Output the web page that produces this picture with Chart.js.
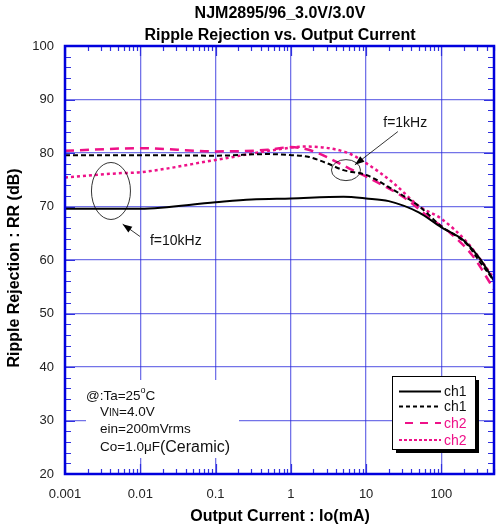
<!DOCTYPE html>
<html><head><meta charset="utf-8">
<script src="https://cdn.jsdelivr.net/npm/chart.js@4"></script>
<style>html,body{margin:0;padding:0;background:#fff;}#wrap{width:497px;height:530px;}</style>
</head><body><div id="wrap"><canvas id="c" width="497" height="530"></canvas></div>
<script>
// Output current (mA) sample points and ripple rejection (dB) for each curve
const ch1_10k_x = [0.001, 0.01, 0.1, 0.3, 1, 5, 10, 20, 50, 100, 200, 330, 500];
const ch1_10k_y = [69.6, 69.6, 70.8, 71.3, 71.5, 71.8, 71.5, 71.0, 68.9, 66.1, 63.6, 60.1, 56.1];
const ch1_1k_x  = [0.001, 0.01, 0.1, 0.5, 1, 1.7, 3, 5, 10, 23, 50, 100, 220, 330, 500];
const ch1_1k_y  = [79.6, 79.6, 79.5, 79.8, 79.6, 79.3, 78.1, 76.8, 75.9, 73.1, 70.1, 66.3, 62.9, 59.5, 56.1];
const ch2_1k_x  = [0.001, 0.01, 0.1, 0.5, 1, 2, 6, 11, 35, 65, 130, 260, 500];
const ch2_1k_y  = [80.4, 80.9, 80.3, 80.6, 81.1, 80.3, 77.1, 75.3, 71.3, 68.2, 65.1, 60.8, 54.5];
const ch2_10k_x = [0.001, 0.005, 0.01, 0.1, 0.7, 1.5, 5.5, 10, 23, 50, 100, 220, 330, 500];
const ch2_10k_y = [75.4, 76.2, 76.4, 78.7, 80.7, 81.2, 80.1, 78.1, 74.4, 70.1, 67.7, 63.3, 60.1, 56.5];
const legendLabels = ["ch1", "ch1", "ch2", "ch2"];
const xTickValues = [0.001, 0.01, 0.1, 1, 10, 100];
const xTickLabels = ["0.001", "0.01", "0.1", "1", "10", "100"];
const yTickValues = [20, 30, 40, 50, 60, 70, 80, 90, 100];
const titleLines = ["NJM2895/96_3.0V/3.0V", "Ripple Rejection vs. Output Current"];
const xTitle = "Output Current : Io(mA)";
const yTitle = "Ripple Rejection : RR (dB)";
const condLines = ["@:Ta=25", "V", "ein=200mVrms", "Co=1.0"];

const pts = (xs, ys) => xs.map((x, i) => ({x: x, y: ys[i]}));
const PINK = '#ee1188';
const FONT = '"Liberation Sans", Arial, sans-serif';

const datasets = [
  {label: legendLabels[0], data: pts(ch1_10k_x, ch1_10k_y), borderColor: '#000', borderWidth: 2, borderDash: [], tension: 0.35},
  {label: legendLabels[1], data: pts(ch1_1k_x, ch1_1k_y), borderColor: '#000', borderWidth: 2, borderDash: [5, 3], tension: 0.35},
  {label: legendLabels[2], data: pts(ch2_1k_x, ch2_1k_y), borderColor: PINK, borderWidth: 2.5, borderDash: [9, 6], tension: 0.35},
  {label: legendLabels[3], data: pts(ch2_10k_x, ch2_10k_y), borderColor: PINK, borderWidth: 2.5, borderDash: [3, 3], tension: 0.35}
].map(d => Object.assign(d, {pointRadius: 0, fill: false, cubicInterpolationMode: 'monotone'}));

const decor = {
  id: 'decor',
  beforeDatasetsDraw(chart) {
    const ctx = chart.ctx, xs = chart.scales.x, ys = chart.scales.y, a = chart.chartArea;
    ctx.save();
    // white backing behind the conditions text (interrupts grid)
    ctx.fillStyle = '#fff';
    ctx.fillRect(86, 380, 153, 78);
    ctx.strokeStyle = '#3030e0'; ctx.lineWidth = 1.2;
    // minor/major inward ticks
    ctx.beginPath();
    for (let d = -3; d <= 2; d++) {
      for (let m = 1; m <= 9; m++) {
        const v = m * Math.pow(10, d);
        if (v > 500) continue;
        const px = Math.round(xs.getPixelForValue(v)) + 0.5;
        const len = (m === 1) ? 10 : 5;
        ctx.moveTo(px, a.bottom); ctx.lineTo(px, a.bottom - len);
        ctx.moveTo(px, a.top); ctx.lineTo(px, a.top + len);
      }
    }
    for (let v = 20; v <= 100; v += 2) {
      const py = Math.round(ys.getPixelForValue(v)) + 0.5;
      const len = (v % 10 === 0) ? 10 : 6;
      ctx.moveTo(a.left, py); ctx.lineTo(a.left + len, py);
      ctx.moveTo(a.right, py); ctx.lineTo(a.right - len, py);
    }
    ctx.stroke();
    ctx.restore();
  },
  afterDraw(chart) {
    const ctx = chart.ctx, xs = chart.scales.x, ys = chart.scales.y, a = chart.chartArea;
    ctx.save();
    // border
    ctx.strokeStyle = '#0000dd'; ctx.lineWidth = 2.5;
    ctx.strokeRect(a.left, a.top, a.right - a.left, a.bottom - a.top);
    // title
    ctx.fillStyle = '#000'; ctx.textAlign = 'center'; ctx.textBaseline = 'middle';
    ctx.font = 'bold 16px ' + FONT;
    const cx = 280;
    ctx.fillText(titleLines[0], cx, 14);
    ctx.fillText(titleLines[1], cx, 36);
    // axis titles
    ctx.font = 'bold 16px ' + FONT;
    ctx.fillText(xTitle, cx, 517);
    ctx.save();
    ctx.translate(15, 268);
    ctx.rotate(-Math.PI / 2);
    ctx.fillText(yTitle, 0, 0);
    ctx.restore();
    // conditions text
    ctx.textAlign = 'left'; ctx.textBaseline = 'alphabetic';
    ctx.fillStyle = '#111';
    const F = 13.5;
    ctx.font = F + 'px ' + FONT;
    let x0 = 86, y0 = 400;
    ctx.fillText(condLines[0], x0, y0);
    let w = ctx.measureText(condLines[0]).width;
    ctx.font = '9px ' + FONT; ctx.fillText('o', x0 + w, y0 - 7);
    let w2 = ctx.measureText('o').width;
    ctx.font = F + 'px ' + FONT; ctx.fillText('C', x0 + w + w2, y0);
    x0 = 100; y0 = 416;
    ctx.fillText(condLines[1], x0, y0);
    w = ctx.measureText('V').width;
    ctx.font = '10px ' + FONT; ctx.fillText('IN', x0 + w, y0);
    w2 = ctx.measureText('IN').width;
    ctx.font = F + 'px ' + FONT; ctx.fillText('=4.0V', x0 + w + w2, y0);
    ctx.fillText(condLines[2], 100, 433);
    ctx.fillText(condLines[3], 100, 451);
    w = ctx.measureText(condLines[3]).width;
    ctx.fillText('\u03bcF', 100 + w, 451);
    w2 = ctx.measureText('\u03bcF').width;
    ctx.font = '16px ' + FONT; ctx.fillText('(Ceramic)', 100 + w + w2, 452);
    // annotations: ellipses and arrows
    ctx.strokeStyle = '#000'; ctx.lineWidth = 0.8;
    const ex1 = xs.getPixelForValue(0.00408), ey1 = ys.getPixelForValue(72.9);
    ctx.beginPath(); ctx.ellipse(ex1, ey1, 19.5, 28.5, 0, 0, Math.PI * 2); ctx.stroke();
    const ex2 = xs.getPixelForValue(5.4), ey2 = ys.getPixelForValue(76.8);
    ctx.beginPath(); ctx.ellipse(ex2, ey2, 14.5, 10.5, 0, 0, Math.PI * 2); ctx.stroke();
    function arrow(x1, y1, x2, y2) {
      ctx.beginPath(); ctx.moveTo(x1, y1); ctx.lineTo(x2, y2); ctx.stroke();
      const ang = Math.atan2(y2 - y1, x2 - x1), L = 10, sp = 0.35;
      ctx.beginPath();
      ctx.moveTo(x2, y2);
      ctx.lineTo(x2 - L * Math.cos(ang - sp), y2 - L * Math.sin(ang - sp));
      ctx.lineTo(x2 - L * Math.cos(ang + sp), y2 - L * Math.sin(ang + sp));
      ctx.closePath(); ctx.fillStyle = '#000'; ctx.fill();
    }
    arrow(xs.getPixelForValue(0.0099), ys.getPixelForValue(64.4), xs.getPixelForValue(0.00584), ys.getPixelForValue(66.7));
    arrow(xs.getPixelForValue(26.4), ys.getPixelForValue(84.0), xs.getPixelForValue(7.1), ys.getPixelForValue(77.8));
    ctx.fillStyle = '#111'; ctx.font = '14px ' + FONT; ctx.textBaseline = 'middle';
    ctx.fillText('f=10kHz', xs.getPixelForValue(0.01345), ys.getPixelForValue(63.6));
    ctx.fillText('f=1kHz', xs.getPixelForValue(16.9), ys.getPixelForValue(85.6));
    // legend box
    const lx = 392, ly = 376, lw = 83, lh = 73;
    ctx.fillStyle = '#000'; ctx.fillRect(lx + 4, ly + 4, lw, lh);
    ctx.fillStyle = '#fff'; ctx.fillRect(lx, ly, lw, lh);
    ctx.strokeStyle = '#000'; ctx.lineWidth = 1; ctx.strokeRect(lx + 0.5, ly + 0.5, lw, lh);
    ctx.font = '14px ' + FONT; ctx.textBaseline = 'middle';
    const rowY = [391.5, 406.5, 423, 440];
    chart.data.datasets.forEach((d, i) => {
      const yy = rowY[i];
      ctx.strokeStyle = d.borderColor; ctx.lineWidth = 2;
      ctx.setLineDash(d.borderDash.length ? (i === 1 ? [4, 3] : i === 2 ? [8, 7] : [3, 2]) : []);
      ctx.lineDashOffset = (i === 2) ? -6 : 0;
      ctx.beginPath(); ctx.moveTo(lx + 7, yy); ctx.lineTo(lx + 49, yy); ctx.stroke();
      ctx.setLineDash([]); ctx.lineDashOffset = 0;
      ctx.fillStyle = (i < 2) ? '#111' : PINK;
      ctx.fillText(d.label, lx + 52, yy + 1);
    });
    ctx.restore();
  }
};

new Chart(document.getElementById('c'), {
  type: 'line',
  data: {datasets: datasets},
  options: {
    responsive: false, animation: false, devicePixelRatio: 1,
    layout: {padding: {left: 0, right: 3, top: 46, bottom: 0}},
    plugins: {legend: {display: false}, tooltip: {enabled: false}, title: {display: false}},
    scales: {
      x: {
        type: 'logarithmic', min: 0.001, max: 500,
        afterBuildTicks: (s) => { s.ticks = xTickValues.map(v => ({value: v})); },
        afterFit: (s) => { s.height = 56; },
        ticks: {color: '#222', font: {size: 13, family: FONT}, padding: 13, maxRotation: 0, autoSkip: false,
          callback: (v) => { const i = xTickValues.indexOf(v); return i >= 0 ? xTickLabels[i] : ''; }},
        grid: {color: 'rgba(40,40,220,0.65)', lineWidth: 1.3, drawTicks: false},
        border: {display: false}
      },
      y: {
        min: 20, max: 100,
        afterBuildTicks: (s) => { s.ticks = yTickValues.map(v => ({value: v})); },
        afterFit: (s) => { s.width = 65; },
        ticks: {color: '#222', font: {size: 13, family: FONT}, padding: 11},
        grid: {color: 'rgba(40,40,220,0.65)', lineWidth: 1.3, drawTicks: false},
        border: {display: false}
      }
    }
  },
  plugins: [decor]
});
</script>
</body></html>
